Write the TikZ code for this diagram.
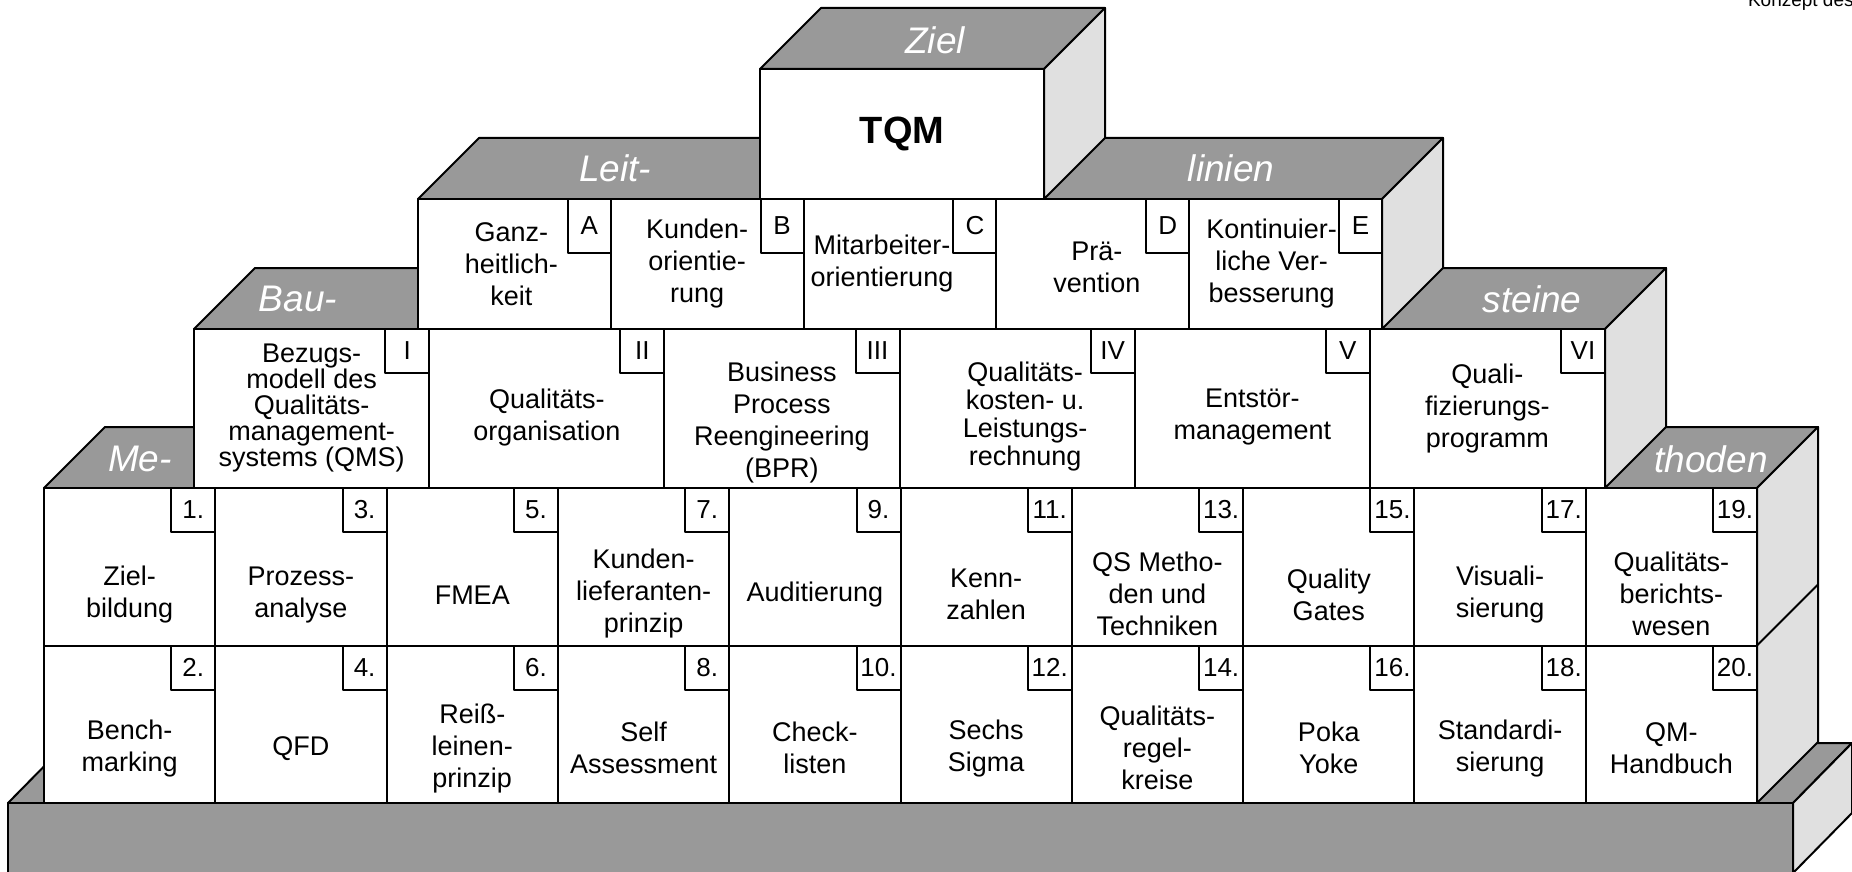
\documentclass[tikz,border=0pt]{standalone}
\usepackage{fontspec}
\setmainfont{Liberation Sans}
\usepackage{tikz}
\definecolor{topgray}{gray}{0.6}
\definecolor{sidegray}{gray}{0.88}

\begin{document}
\begin{tikzpicture}[x=1pt, y=-1pt, line join=round, every node/.style={inner sep=0pt, outer sep=0pt}]
    \tikzstyle{face}=[draw=black, line width=2pt]
    \tikzstyle{top face}=[face, fill=topgray]
    \tikzstyle{side face}=[face, fill=sidegray]
    \tikzstyle{cell}=[rectangle, draw=black, line width=2pt, fill=white, anchor=north west]
    \tikzstyle{method cell}=[cell, minimum width=171.3pt, minimum height=157.5pt]
    \tikzstyle{block cell}=[cell, minimum width=235.2pt, minimum height=159pt]
    \tikzstyle{guide cell}=[cell, minimum width=192.8pt, minimum height=130pt]
    \tikzstyle{tag}=[rectangle, draw=black, line width=2pt, fill=white, anchor=north east, minimum width=44pt, minimum height=44pt, font=\fontsize{26}{26}\selectfont]
    \tikzstyle{letter tag}=[tag, minimum width=43pt, minimum height=54pt]
    \tikzstyle{cell text}=[align=center, font=\fontsize{27}{32}\selectfont]
    \tikzstyle{annot}=[text=white, font=\fontsize{37}{37}\selectfont\itshape]

    \useasboundingbox (0,0) rectangle (1852,872);

    % Header
    \node[anchor=base west, font=\fontsize{19}{19}\selectfont] (header) at (1748,7) {Konzept des TQM};

    % Base plate
    \filldraw[top face] (8,803) -- (67,743) -- (1852,743) -- (1793,803) -- cycle;
    \filldraw[top face] (8,803) rectangle (1793,873);
    \filldraw[side face] (1793,803) -- (1852,743) -- (1852,813) -- (1793,873) -- cycle;

    % Methoden wall
    \filldraw[top face] (44,488) -- (105,427) -- (1818,427) -- (1757,488) -- cycle;
    \filldraw[side face] (1757,488) -- (1818,427) -- (1818,742) -- (1757,803) -- cycle;
    \draw[face] (1757,645.5) -- (1818,584.5);
    \node[annot] (lbl-me) at (140,459) {Me-};
    \node[annot] (lbl-thoden) at (1711,459) {thoden};

    \node[method cell] (M1) at (44,488) {};
    \node[method cell] (M3) at (215.3,488) {};
    \node[method cell] (M5) at (386.6,488) {};
    \node[method cell] (M7) at (557.9,488) {};
    \node[method cell] (M9) at (729.2,488) {};
    \node[method cell] (M11) at (900.5,488) {};
    \node[method cell] (M13) at (1071.8,488) {};
    \node[method cell] (M15) at (1243.1,488) {};
    \node[method cell] (M17) at (1414.4,488) {};
    \node[method cell] (M19) at (1585.7,488) {};

    \node[method cell] (M2) at (44,645.5) {};
    \node[method cell] (M4) at (215.3,645.5) {};
    \node[method cell] (M6) at (386.6,645.5) {};
    \node[method cell] (M8) at (557.9,645.5) {};
    \node[method cell] (M10) at (729.2,645.5) {};
    \node[method cell] (M12) at (900.5,645.5) {};
    \node[method cell] (M14) at (1071.8,645.5) {};
    \node[method cell] (M16) at (1243.1,645.5) {};
    \node[method cell] (M18) at (1414.4,645.5) {};
    \node[method cell] (M20) at (1585.7,645.5) {};

    \node[tag] (M1-nr) at (M1.north east) {1.};
    \node[tag] (M2-nr) at (M2.north east) {2.};
    \node[tag] (M3-nr) at (M3.north east) {3.};
    \node[tag] (M4-nr) at (M4.north east) {4.};
    \node[tag] (M5-nr) at (M5.north east) {5.};
    \node[tag] (M6-nr) at (M6.north east) {6.};
    \node[tag] (M7-nr) at (M7.north east) {7.};
    \node[tag] (M8-nr) at (M8.north east) {8.};
    \node[tag] (M9-nr) at (M9.north east) {9.};
    \node[tag] (M10-nr) at (M10.north east) {10.};
    \node[tag] (M11-nr) at (M11.north east) {11.};
    \node[tag] (M12-nr) at (M12.north east) {12.};
    \node[tag] (M13-nr) at (M13.north east) {13.};
    \node[tag] (M14-nr) at (M14.north east) {14.};
    \node[tag] (M15-nr) at (M15.north east) {15.};
    \node[tag] (M16-nr) at (M16.north east) {16.};
    \node[tag] (M17-nr) at (M17.north east) {17.};
    \node[tag] (M18-nr) at (M18.north east) {18.};
    \node[tag] (M19-nr) at (M19.north east) {19.};
    \node[tag] (M20-nr) at (M20.north east) {20.};

    \node[cell text] (M1-t) at ([yshift=-28pt]M1.center) {Ziel-\\bildung};
    \node[cell text] (M2-t) at ([yshift=-24pt]M2.center) {Bench-\\marking};
    \node[cell text] (M3-t) at ([yshift=-28pt]M3.center) {Prozess-\\analyse};
    \node[cell text] (M4-t) at ([yshift=-24pt]M4.center) {QFD};
    \node[cell text] (M5-t) at ([yshift=-28pt]M5.center) {FMEA};
    \node[cell text] (M6-t) at ([yshift=-24pt]M6.center) {Reiß-\\leinen-\\prinzip};
    \node[cell text] (M7-t) at ([yshift=-27pt]M7.center) {Kunden-\\lieferanten-\\prinzip};
    \node[cell text] (M8-t) at ([yshift=-24pt]M8.center) {Self\\Assessment};
    \node[cell text] (M9-t) at ([yshift=-28pt]M9.center) {Auditierung};
    \node[cell text] (M10-t) at ([yshift=-24pt]M10.center) {Check-\\listen};
    \node[cell text] (M11-t) at ([yshift=-28pt]M11.center) {Kenn-\\zahlen};
    \node[cell text] (M12-t) at ([yshift=-24pt]M12.center) {Sechs\\Sigma};
    \node[cell text] (M13-t) at ([yshift=-27pt]M13.center) {QS Metho-\\den und\\Techniken};
    \node[cell text] (M14-t) at ([yshift=-24pt]M14.center) {Qualitäts-\\regel-\\kreise};
    \node[cell text] (M15-t) at ([yshift=-28pt]M15.center) {Quality\\Gates};
    \node[cell text] (M16-t) at ([yshift=-24pt]M16.center) {Poka\\Yoke};
    \node[cell text] (M17-t) at ([yshift=-28pt]M17.center) {Visuali-\\sierung};
    \node[cell text] (M18-t) at ([yshift=-24pt]M18.center) {Standardi-\\sierung};
    \node[cell text] (M19-t) at ([yshift=-27pt]M19.center) {Qualitäts-\\berichts-\\wesen};
    \node[cell text] (M20-t) at ([yshift=-24pt]M20.center) {QM-\\Handbuch};

    % Bausteine row
    \filldraw[top face] (194,329) -- (255,268) -- (1666,268) -- (1605,329) -- cycle;
    \filldraw[side face] (1605,329) -- (1666,268) -- (1666,427) -- (1605,488) -- cycle;
    \node[annot] (lbl-bau) at (298,299) {Bau-};
    \node[annot] (lbl-steine) at (1532,299) {steine};

    \node[block cell] (B1) at (194,329) {};
    \node[block cell] (B2) at (429.2,329) {};
    \node[block cell] (B3) at (664.3,329) {};
    \node[block cell] (B4) at (899.5,329) {};
    \node[block cell] (B5) at (1134.7,329) {};
    \node[block cell] (B6) at (1369.8,329) {};

    \node[tag] (B1-nr) at (B1.north east) {I};
    \node[tag] (B2-nr) at (B2.north east) {II};
    \node[tag] (B3-nr) at (B3.north east) {III};
    \node[tag] (B4-nr) at (B4.north east) {IV};
    \node[tag] (B5-nr) at (B5.north east) {V};
    \node[tag] (B6-nr) at (B6.north east) {VI};

    \node[cell text, font=\fontsize{27}{26}\selectfont] (B1-t) at (B1.center) {Bezugs-\\modell des\\Qualitäts-\\management-\\systems (QMS)};
    \node[cell text] (B2-t) at ([yshift=-9pt]B2.center) {Qualitäts-\\organisation};
    \node[cell text] (B3-t) at ([yshift=-14pt]B3.center) {Business\\Process\\Reengineering\\(BPR)};
    \node[cell text, font=\fontsize{27}{28}\selectfont] (B4-t) at ([xshift=8pt, yshift=-8pt]B4.center) {Qualitäts-\\kosten- u.\\Leistungs-\\rechnung};
    \node[cell text] (B5-t) at ([yshift=-9pt]B5.center) {Entstör-\\management};
    \node[cell text] (B6-t) at (B6.center) {Quali-\\fizierungs-\\programm};

    % Leitlinien row
    \filldraw[top face] (418,199) -- (479,138) -- (1443,138) -- (1382,199) -- cycle;
    \filldraw[side face] (1382,199) -- (1443,138) -- (1443,268) -- (1382,329) -- cycle;
    \node[annot] (lbl-leit) at (615,168) {Leit-};
    \node[annot] (lbl-linien) at (1231,168) {linien};

    \node[guide cell] (L1) at (418,199) {};
    \node[guide cell] (L2) at (610.8,199) {};
    \node[guide cell] (L3) at (803.6,199) {};
    \node[guide cell] (L4) at (996.4,199) {};
    \node[guide cell] (L5) at (1189.2,199) {};

    \node[letter tag] (L1-nr) at (L1.north east) {A};
    \node[letter tag] (L2-nr) at (L2.north east) {B};
    \node[letter tag] (L3-nr) at (L3.north east) {C};
    \node[letter tag] (L4-nr) at (L4.north east) {D};
    \node[letter tag] (L5-nr) at (L5.north east) {E};

    \node[cell text] (L1-t) at ([xshift=-3pt]L1.center) {Ganz-\\heitlich-\\keit};
    \node[cell text] (L2-t) at ([xshift=-10pt]L2.center) {Kunden-\\orientie-\\rung};
    \node[cell text] (L3-t) at ([xshift=-18pt]L3.center) {Mitarbeiter-\\orientierung};
    \node[cell text] (L4-t) at ([xshift=4pt, yshift=-3pt]L4.center) {Prä-\\vention};
    \node[cell text] (L5-t) at ([xshift=-14pt]L5.center) {Kontinuier-\\liche Ver-\\besserung};

    % Ziel
    \filldraw[top face] (760,69) -- (821,8) -- (1105,8) -- (1044,69) -- cycle;
    \filldraw[side face] (1044,69) -- (1105,8) -- (1105,138) -- (1044,199) -- cycle;
    \node[annot] (lbl-ziel) at (935,40) {Ziel};
    \node[cell, minimum width=284pt, minimum height=130pt, font=\fontsize{38}{38}\selectfont\bfseries] (tqm) at (760,69) {TQM};

\end{tikzpicture}
\end{document}
